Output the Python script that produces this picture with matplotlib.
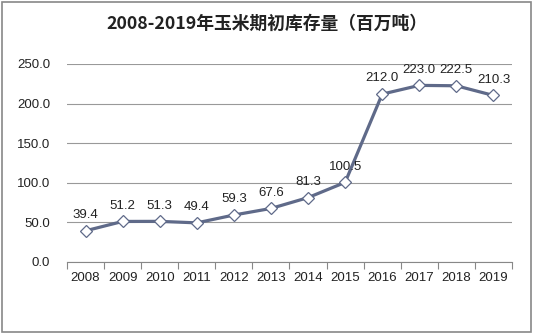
import matplotlib.pyplot as plt
from matplotlib.patches import Rectangle

years = ["2008", "2009", "2010", "2011", "2012", "2013",
         "2014", "2015", "2016", "2017", "2018", "2019"]
stocks = [39.4, 51.2, 51.3, 49.4, 59.3, 67.6, 81.3, 100.5, 212.0, 223.0, 222.5, 210.3]
yticks = [0, 50, 100, 150, 200, 250]

plt.rcParams["font.family"] = ["Liberation Sans", "DejaVu Sans"]

fig = plt.figure(figsize=(5.33, 3.34), dpi=100)
ax = fig.add_axes([0.1257, 0.2156, 0.8349, 0.5928])

x = list(range(len(years)))
ax.plot(x, stocks, color="#5f6a89", linewidth=2.3, marker="D", markersize=6,
        markerfacecolor="white", markeredgecolor="#5f6a89", markeredgewidth=0.9, zorder=3)

for xi, v in zip(x, stocks):
    ax.annotate(f"{v:.1f}", (xi, v), xytext=(0, 7), textcoords="offset points",
                ha="center", va="bottom", fontsize=9.5, color="#222222")

ax.set_xlim(-0.5, len(years) - 0.5)
ax.set_ylim(0, 250)
ax.set_yticks(yticks)
ax.set_yticklabels([f"{t:.1f}" for t in yticks], fontsize=9.5, color="#222222")
ax.set_xticks(x)
ax.set_xticklabels(years, fontsize=9.5, color="#222222")
ax.set_xticks([i - 0.5 for i in range(len(years) + 1)], minor=True)
ax.tick_params(axis="x", which="major", length=0, pad=7)
ax.tick_params(axis="x", which="minor", length=5, color="#888888", width=0.8)
ax.tick_params(axis="y", length=0, pad=12)

ax.grid(axis="y", color="#999999", linewidth=0.8)
ax.set_axisbelow(True)
for s in ["left", "right", "top"]:
    ax.spines[s].set_visible(False)
ax.spines["bottom"].set_color("#888888")
ax.spines["bottom"].set_linewidth(0.8)

fig.text(0.5, 0.928, "2008-2019年玉米期初库存量（百万吨）", ha="center", va="center",
         fontsize=12.8, fontweight="bold", color="#222222",
         family=["Noto Sans CJK SC", "DejaVu Sans"])

fig.patches.append(Rectangle((0.004, 0.006), 0.992, 0.988, transform=fig.transFigure,
                             fill=False, edgecolor="#888888", linewidth=1.2))

fig.savefig("out.png", dpi=100)
